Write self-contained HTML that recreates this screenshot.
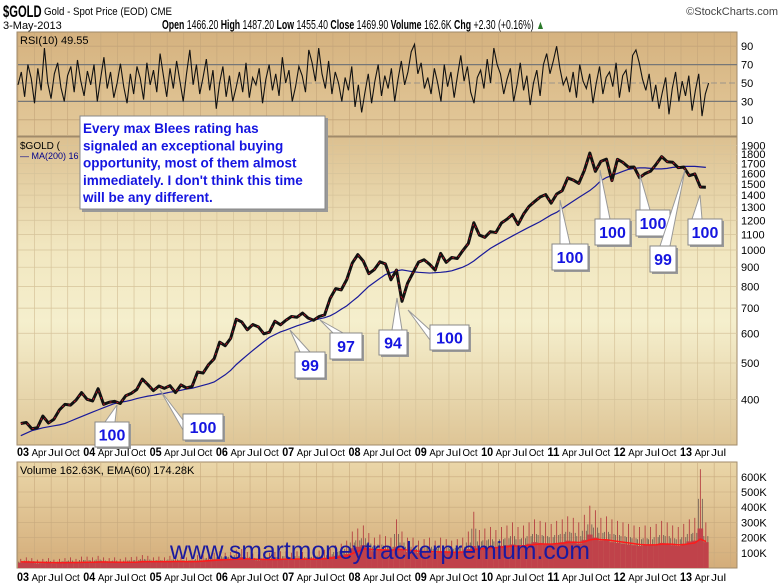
<!DOCTYPE html>
<html><head><meta charset="utf-8"><style>
body{margin:0;background:#fff;}
svg{display:block;font-family:"Liberation Sans",sans-serif;}
</style></head><body>
<svg id="c" width="780" height="586" viewBox="0 0 780 586">
<defs>
<linearGradient id="gp" x1="0" y1="0" x2="0" y2="1">
<stop offset="0" stop-color="#dcc090"/><stop offset="0.35" stop-color="#f1e6bf"/><stop offset="0.6" stop-color="#f5efcd"/><stop offset="1" stop-color="#dec596"/></linearGradient>
<linearGradient id="gr" x1="0" y1="0" x2="0" y2="1">
<stop offset="0" stop-color="#d5b27f"/><stop offset="1" stop-color="#e3c99a"/></linearGradient>
<linearGradient id="gv" x1="0" y1="0" x2="0" y2="1">
<stop offset="0" stop-color="#ead6a8"/><stop offset="1" stop-color="#d4ad7a"/></linearGradient>
</defs>
<g id="hdr">
<text transform="translate(3,17) scale(0.66,1)" font-size="17" font-weight="bold">$GOLD</text>
<text transform="translate(44,15) scale(0.88,1)" font-size="11">Gold - Spot Price (EOD)  CME</text>
<text x="3" y="29" font-size="11">3-May-2013</text>
<text transform="translate(162,29) scale(0.7,1)" font-size="12.5"><tspan font-weight="bold">Open</tspan> 1466.20 <tspan font-weight="bold">High</tspan> 1487.20 <tspan font-weight="bold">Low</tspan> 1455.40 <tspan font-weight="bold">Close</tspan> 1469.90 <tspan font-weight="bold">Volume</tspan> 162.6K <tspan font-weight="bold">Chg</tspan> +2.30 (+0.16%) <tspan fill="#2a7a2a">▲</tspan></text>
<text x="778" y="15" font-size="11" text-anchor="end" fill="#444">©StockCharts.com</text>
</g>
<rect x="17" y="32" width="720" height="104" fill="url(#gr)" stroke="#a08a6a"/>
<rect x="17" y="137" width="720" height="308" fill="url(#gp)" stroke="#a08a6a"/>
<rect x="17" y="462" width="720" height="106" fill="url(#gv)" stroke="#a08a6a"/>
<g id="grid"></g>
<g id="series"></g>
<g id="ann"></g>
<text x="20" y="44" font-size="11">RSI(10) 49.55</text>
<text x="20" y="149" font-size="10">$GOLD (</text>
<text x="20" y="159" font-size="9" fill="#00008b">— MA(200) 16</text>
<text x="20" y="474" font-size="11">Volume 162.63K, EMA(60) 174.28K</text>
<text x="380" y="559" font-size="25" fill="#1a1aa0" text-anchor="middle" textLength="420" lengthAdjust="spacingAndGlyphs">www.smartmoneytrackerpremium.com</text>
</svg>
<script>
const years=["03","04","05","06","07","08","09","10","11","12","13"];
const priceTicks=[400,500,600,700,800,900,1000,1100,1200,1300,1400,1500,1600,1700,1800,1900];
const rsiTicks=[10,30,50,70,90];
const volTicks=[100,200,300,400,500,600];
const closes=[345,347,334,336,361,346,354,375,388,386,398,417,
400,396,427,388,393,395,390,409,415,425,453,438,
422,434,428,435,417,437,429,433,473,470,495,513,
568,556,582,654,643,613,633,624,598,604,646,632,
650,665,662,679,659,650,665,672,743,789,783,834,
923,972,934,865,887,930,918,833,884,730,815,870,
928,942,916,884,979,927,955,949,996,1040,1182,1096,
1081,1119,1113,1180,1208,1244,1169,1246,1307,1346,1384,1405,
1333,1410,1439,1556,1536,1505,1628,1813,1620,1722,1746,1531,
1744,1711,1662,1664,1558,1598,1622,1692,1773,1719,1713,1657,
1663,1578,1595,1472,1470];
const ma200=[320,325,330,333,336,338,340,342,345,350,355,360,
365,370,375,380,385,390,393,395,398,402,405,408,
410,413,415,418,420,423,426,428,432,436,440,445,
455,465,478,495,510,525,540,555,570,585,595,605,
612,620,628,635,642,650,655,660,668,680,695,710,
730,750,775,800,820,840,860,870,880,885,880,875,
872,870,868,870,872,875,880,890,900,915,935,960,
985,1010,1030,1050,1070,1090,1110,1130,1150,1170,1190,1215,
1240,1260,1290,1320,1350,1380,1410,1440,1480,1530,1560,1580,
1600,1620,1640,1650,1655,1655,1650,1645,1645,1650,1660,1665,
1670,1670,1670,1665,1660];
const rsi=[48,62,35,70,55,28,66,42,88,50,33,60,72,45,30,58,68,40,75,52,36,63,48,70,30,55,78,44,62,34,50,71,46,28,60,38,68,55,32,72,48,64,40,82,58,35,66,44,74,52,30,60,86,48,70,38,56,76,42,64,22,50,68,35,58,30,45,62,40,72,34,56,48,66,28,54,70,42,60,36,78,50,64,30,46,68,58,40,86,72,52,88,60,44,74,38,62,50,30,56,42,68,24,48,18,40,60,28,52,70,36,58,44,66,30,54,74,48,62,84,92,60,72,44,56,38,66,50,30,70,46,62,34,58,80,52,68,40,28,56,64,44,76,50,88,70,60,38,54,66,30,48,72,42,58,26,50,64,36,70,82,60,74,90,66,48,56,40,62,34,70,52,44,60,28,50,68,38,56,62,46,72,34,58,64,40,80,86,72,54,42,60,30,48,22,40,56,16,44,62,30,52,36,58,20,42,60,14,38,50];
const vols=[35,42,38,30,32,35,30,33,36,38,35,40,
42,38,45,40,36,38,35,38,40,42,48,45,
40,42,40,44,45,42,40,42,48,50,55,58,
62,58,60,68,72,60,55,50,52,55,58,60,
60,58,62,60,55,58,65,68,75,80,85,92,
130,140,150,125,110,120,118,115,140,125,108,110,
100,105,110,98,108,105,100,102,110,125,145,130,
135,140,138,145,150,155,145,148,160,170,165,160,
155,165,170,180,175,160,185,220,200,180,185,170,
165,160,155,150,145,150,148,155,165,160,150,145,
160,175,180,260,170];
const volPeaks=[60,70,65,55,60,65,55,60,65,70,60,75,
75,70,80,70,65,70,60,70,72,75,85,80,
70,75,70,80,80,75,70,75,85,90,95,100,
110,100,105,120,125,105,95,90,95,100,105,110,
110,100,110,105,100,105,115,120,130,150,160,180,
240,260,280,230,200,220,210,200,320,240,200,200,
180,190,200,180,200,190,180,190,200,240,370,250,
260,270,250,270,280,300,270,280,300,320,310,300,
290,310,320,340,330,300,350,410,380,330,340,320,
310,300,290,280,270,280,270,290,310,300,280,270,
290,320,330,650,300];
const volEma=[40,40,39,38,37,36,35,35,35,36,36,37,
38,38,39,40,39,39,38,38,38,39,41,42,
42,42,42,42,43,43,42,42,43,45,48,50,
53,55,56,58,60,60,59,57,56,56,56,57,
58,58,59,59,58,58,59,61,64,68,72,78,
95,110,125,125,120,120,119,118,122,122,118,115,
110,108,109,106,106,106,104,104,105,110,120,125,
128,132,134,137,140,145,145,146,150,155,158,158,
157,160,163,168,170,168,172,185,190,187,186,180,
175,170,165,160,155,153,152,153,157,158,156,152,
154,160,165,190,174];

const svg=document.getElementById('c');
const NS='http://www.w3.org/2000/svg';
function mk(tag,attrs,parent){const e=document.createElementNS(NS,tag);for(const k in attrs)e.setAttribute(k,attrs[k]);(parent||svg).appendChild(e);return e;}
const X0=18,PXY=66.3,RIGHT=737;
const xm=i=>X0+(i+0.5)*PXY/12;
const xq=q=>X0+q*PXY/4;
const yP=p=>250-163*Math.log(p/1000);
const yR=v=>83-(v-50)*0.92;
const yV=v=>568-v*0.152;
const grid=document.getElementById('grid'),ser=document.getElementById('series');

[452,577].forEach((ly,li)=>{
  for(let q=0;q<years.length*4;q++){
    const x=xq(q);if(x>RIGHT)break;
    if(li===0){
      const g1=mk('line',{x1:x,x2:x,y1:33,y2:135,stroke:'#c4a57a','stroke-width':0.6},grid);
      
      const g2=mk('line',{x1:x,x2:x,y1:138,y2:444,stroke:'#d6c39a','stroke-width':0.7},grid);
      
      const g3=mk('line',{x1:x,x2:x,y1:463,y2:567,stroke:'#c8aa7e','stroke-width':0.6},grid);
      
    }
    const m=q%4;
    if(m===3&&q===years.length*4-1)continue;
    const t=mk('text',{x:m?x-3:x-1,y:ly+4,'font-size':m?10.5:12,'font-weight':m?'normal':'bold',textLength:m?15:12,lengthAdjust:'spacingAndGlyphs'});
    t.textContent=m?['','Apr','Jul','Oct'][m]:years[q/4];
    
  }
});
priceTicks.forEach(p=>{const y=yP(p);
  const l=mk('line',{x1:18,x2:RIGHT,y1:y,y2:y,stroke:'#d6c39a','stroke-width':0.7},grid);
  
  const t=mk('text',{x:741,y:y+4,'font-size':11});t.textContent=p;
  
});
rsiTicks.forEach(v=>{const y=yR(v);
  const st=(v===30||v===70)?'#777':(v===50?'#888':'#c4a57a');
  const l=mk('line',{x1:18,x2:RIGHT,y1:y,y2:y,stroke:st,'stroke-width':(v===30||v===70)?1.3:0.8,'stroke-dasharray':v===50?'6,3':'none'},grid);
  
  const t=mk('text',{x:741,y:y+4,'font-size':11});t.textContent=v;
  
});
volTicks.forEach(v=>{const y=yV(v);
  const l=mk('line',{x1:18,x2:RIGHT,y1:y,y2:y,stroke:'#c8aa7e','stroke-width':0.6},grid);
  
  const t=mk('text',{x:741,y:y+4,'font-size':11});t.textContent=v+'K';
  
});
const xr=i=>X0+i*(closes.length/12*PXY)/(rsi.length-1);
const rl=mk('polyline',{points:rsi.map((v,i)=>xr(i)+','+yR(v)).join(' '),fill:'none',stroke:'#111','stroke-width':1.1},ser);

volPeaks.forEach((v,i)=>{
  [-2,0,2].forEach((d,k)=>{const h=v*(k===1?1:0.7);
  const b=mk('line',{x1:xm(i)+d,x2:xm(i)+d,y1:yV(h),y2:568,stroke:k===1?'#b03038':'#6a5a50','stroke-width':0.8},ser);
  });
});
vols.forEach((v,i)=>{const b=mk('rect',{x:xm(i)-2.8,y:yV(v),width:5.6,height:568-yV(v),fill:'#c0424a'},ser);
  });
const ve=mk('polyline',{points:volEma.map((v,i)=>xm(i)+','+yV(v)).join(' '),fill:'none',stroke:'#ff1a1a','stroke-width':1.5},ser);

const ma=mk('polyline',{points:ma200.map((v,i)=>xm(i)+','+yP(v)).join(' '),fill:'none',stroke:'#1a1a9a','stroke-width':1.2},ser);

const pr=mk('polyline',{points:closes.map((v,i)=>xm(i)+','+yP(v)).join(' '),fill:'none',stroke:'#111','stroke-width':3,'stroke-linejoin':'round'},ser);

const pr2=mk('polyline',{points:closes.map((v,i)=>xm(i)+','+yP(v)).join(' '),fill:'none',stroke:'#d0102a','stroke-width':0.8,'stroke-dasharray':'2,5'},ser);


const ann=document.getElementById('ann');
const callouts=[
 [95,422,34,25,'100',[[105,422],[115,422],[117,405]]],
 [183,414,40,26,'100',[[183,420],[183,430],[160,390]]],
 [295,352,30,26,'99',[[300,352],[310,352],[290,330]]],
 [330,333,32,26,'97',[[333,333],[343,333],[320,320]]],
 [379,330,28,25,'94',[[392,330],[402,330],[397,298]]],
 [430,325,39,25,'100',[[430,330],[430,340],[408,310]]],
 [552,244,36,26,'100',[[560,244],[570,244],[560,200]]],
 [595,219,35,26,'100',[[600,219],[610,219],[600,170]]],
 [636,210,34,26,'100',[[640,210],[650,210],[640,175]]],
 [650,246,26,26,'99',[[660,246],[670,246],[685,170]]],
 [688,219,34,26,'100',[[692,219],[702,219],[700,195]]]
];
callouts.forEach(c=>{
  const g=mk('g',{},ann);
  mk('polygon',{points:c[5].map(p=>p.join(',')).join(' '),fill:'#fff',stroke:'#999'},g);
  mk('rect',{x:c[0]+2,y:c[1]+2,width:c[2],height:c[3],fill:'#999'},g);
  mk('rect',{x:c[0],y:c[1],width:c[2],height:c[3],fill:'#fff',stroke:'#888'},g);
  const t=mk('text',{x:c[0]+c[2]/2,y:c[1]+c[3]/2+6,'font-size':16,'font-weight':'bold',fill:'#1515e0','text-anchor':'middle'},g);
  t.textContent=c[4];
});
const bx=mk('g',{},ann);
mk('rect',{x:82,y:118,width:246,height:94,fill:'#999'},bx);
mk('rect',{x:80,y:116,width:245,height:93,fill:'#fff',stroke:'#888'},bx);
["Every max Blees rating has","signaled an exceptional buying","opportunity, most of them almost","immediately. I don't think this time","will be any different."].forEach((s,i)=>{
  const t=mk('text',{x:83,y:133+i*17.3,'font-size':13.5,'font-weight':'bold',fill:'#1515e0'},bx);t.textContent=s;
});
</script>
</body></html>
